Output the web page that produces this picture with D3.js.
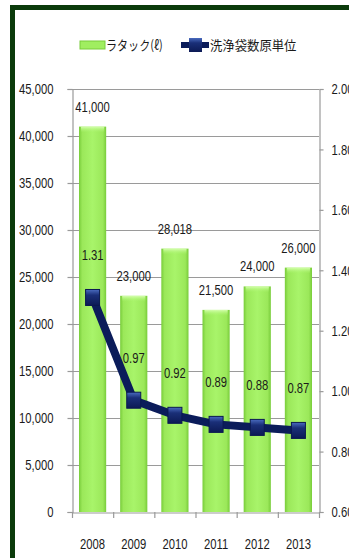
<!DOCTYPE html>
<html><head><meta charset="utf-8">
<script src="https://cdn.jsdelivr.net/npm/d3@7"></script>
<style>
html,body{margin:0;padding:0;background:#fff;overflow:hidden}
svg{display:block}
</style></head>
<body>
<script>
const categories = ["2008","2009","2010","2011","2012","2013"];
const barValues = [41000, 23000, 28018, 21500, 24000, 26000];
const lineValues = [1.31, 0.97, 0.92, 0.89, 0.88, 0.87];
const leftTicks = [0,5000,10000,15000,20000,25000,30000,35000,40000,45000];
const rightTicks = [0.6,0.8,1.0,1.2,1.4,1.6,1.8,2.0];
const barName = "ラタック(ℓ)";
const lineName = "洗浄袋数原単位";

const W = 349, H = 558;
const numFont = "'Liberation Sans','Arial',sans-serif";
const cjkFont = "'Noto Sans CJK JP',sans-serif";
const FS = 15, SQ = 0.75, TXT = "#1a1a1a";
const svg = d3.select("body").append("svg").attr("width", W).attr("height", H);

function squeeze(sel, f) {
  sel.each(function(){
    const len = this.getComputedTextLength();
    d3.select(this).attr("textLength", len*f).attr("lengthAdjust","spacingAndGlyphs");
  });
}

const defs = svg.append("defs");
const bg = defs.append("linearGradient").attr("id","barG").attr("x1","0").attr("x2","1").attr("y1","0").attr("y2","0");
bg.append("stop").attr("offset","0").attr("stop-color","#78cc3a");
bg.append("stop").attr("offset","0.12").attr("stop-color","#9be85a");
bg.append("stop").attr("offset","0.5").attr("stop-color","#a8f46a");
bg.append("stop").attr("offset","0.88").attr("stop-color","#9be85a");
bg.append("stop").attr("offset","1").attr("stop-color","#78cc3a");
const tg = defs.append("linearGradient").attr("id","topG").attr("x1","0").attr("x2","0").attr("y1","0").attr("y2","1");
tg.append("stop").attr("offset","0").attr("stop-color","#d6ffb0");
tg.append("stop").attr("offset","1").attr("stop-color","#a8f46a").attr("stop-opacity",0);
const mg = defs.append("linearGradient").attr("id","mkG").attr("x1","0").attr("x2","0").attr("y1","0").attr("y2","1");
mg.append("stop").attr("offset","0").attr("stop-color","#4a6cc0");
mg.append("stop").attr("offset","0.35").attr("stop-color","#1a2f78");
mg.append("stop").attr("offset","1").attr("stop-color","#0c1a55");

// frame
svg.append("rect").attr("x",12.5).attr("y",7.5).attr("width",400).attr("height",600)
  .attr("fill","none").attr("stroke","#0b3b0b").attr("stroke-width",5);

const x0 = 72, x1 = 319, yTop = 89, yBot = 512;
const x = d3.scaleBand().domain(categories).range([x0, x1]).paddingInner(0.34).paddingOuter(0.17);
const xb = d3.scaleBand().domain(categories).range([x0, x1]);
const yL = d3.scaleLinear().domain([0,45000]).range([yBot, yTop]);
const yR = d3.scaleLinear().domain([0.6,2.0]).range([yBot, yTop]);

// gridlines
svg.append("g").selectAll("line").data(leftTicks.filter(d=>d>0)).join("line")
  .attr("x1",x0).attr("x2",x1).attr("y1",d=>yL(d)+0.5).attr("y2",d=>yL(d)+0.5)
  .attr("stroke","#9a9a9a").attr("stroke-width",1.2);

// left axis
const gl = svg.append("g").attr("transform",`translate(${x0+0.5},0)`)
  .call(d3.axisLeft(yL).tickValues(leftTicks).tickSize(5).tickPadding(14).tickFormat(d3.format(",")));
gl.select(".domain").attr("stroke","#9a9a9a").attr("stroke-width",1.2);
gl.selectAll(".tick line").attr("stroke","#9a9a9a").attr("stroke-width",1.2);
gl.selectAll(".tick text").attr("font-family",numFont).attr("font-size",FS).attr("fill",TXT).call(squeeze,SQ);

// right axis
const gr = svg.append("g").attr("transform",`translate(${x1+0.5},0)`)
  .call(d3.axisRight(yR).tickValues(rightTicks).tickSize(4).tickPadding(8).tickFormat(d3.format(".2f")));
gr.select(".domain").attr("stroke","#9a9a9a").attr("stroke-width",1.2);
gr.selectAll(".tick line").attr("stroke","#9a9a9a").attr("stroke-width",1.2);
gr.selectAll(".tick text").attr("font-family",numFont).attr("font-size",FS).attr("fill",TXT).call(squeeze,SQ);

// bars
const bars = svg.append("g");
bars.selectAll("rect.b").data(barValues).join("rect").attr("class","b")
  .attr("x",(d,i)=>x(categories[i])).attr("width",x.bandwidth())
  .attr("y",d=>yL(d)).attr("height",d=>yBot-yL(d)).attr("fill","url(#barG)");
bars.selectAll("rect.t").data(barValues).join("rect").attr("class","t")
  .attr("x",(d,i)=>x(categories[i])+2).attr("width",x.bandwidth()-4)
  .attr("y",d=>yL(d)).attr("height",6).attr("fill","url(#topG)");

// x axis
const gx = svg.append("g").attr("transform",`translate(0,${yBot+0.5})`)
  .call(d3.axisBottom(xb).tickSize(0).tickPadding(26));
gx.select(".domain").attr("stroke","#9a9a9a").attr("stroke-width",1.2);
gx.selectAll(".tick text").attr("font-family",numFont).attr("font-size",FS).attr("fill",TXT).call(squeeze,SQ);
svg.append("g").selectAll("line").data(d3.range(categories.length+1)).join("line")
  .attr("x1",i=>x0+0.5+i*xb.step()).attr("x2",i=>x0+0.5+i*xb.step())
  .attr("y1",yBot).attr("y2",yBot+6).attr("stroke","#9a9a9a").attr("stroke-width",1.2);

// bar labels
svg.append("g").selectAll("text").data(barValues).join("text")
  .attr("x",(d,i)=>x(categories[i])+x.bandwidth()/2).attr("y",d=>yL(d)-15)
  .attr("text-anchor","middle").attr("font-family",numFont).attr("font-size",FS).attr("fill",TXT)
  .text(d=>d3.format(",")(d)).call(squeeze,SQ);

// line
const cx = (d,i)=>xb(categories[i])+xb.bandwidth()/2;
svg.append("path").datum(lineValues)
  .attr("d", d3.line().x(cx).y(d=>yR(d)))
  .attr("fill","none").attr("stroke","#0b1c5a").attr("stroke-width",8).attr("stroke-linejoin","round");
svg.append("g").selectAll("rect").data(lineValues).join("rect")
  .attr("x",(d,i)=>cx(d,i)-7).attr("y",d=>yR(d)-8).attr("width",14).attr("height",16)
  .attr("fill","url(#mkG)").attr("stroke","#0a1850").attr("stroke-width",1);

// line labels
svg.append("g").selectAll("text").data(lineValues).join("text")
  .attr("x",cx).attr("y",d=>yR(d)-37)
  .attr("text-anchor","middle").attr("font-family",numFont).attr("font-size",FS).attr("fill",TXT)
  .text(d=>d3.format(".2f")(d)).call(squeeze,SQ);

// legend
const lg = svg.append("g");
lg.append("rect").attr("x",80).attr("y",41).attr("width",25).attr("height",8)
  .attr("fill","#a0ee60").attr("stroke","#78cc3a").attr("stroke-width",1);
lg.append("text").attr("x",106).attr("y",50).attr("font-family",cjkFont).attr("font-size",13).attr("fill",TXT)
  .text(barName).call(squeeze,0.85);
lg.append("line").attr("x1",181).attr("x2",209).attr("y1",45).attr("y2",45).attr("stroke","#0b1c5a").attr("stroke-width",6);
lg.append("rect").attr("x",189).attr("y",38).attr("width",13).attr("height",14).attr("fill","url(#mkG)");
lg.append("text").attr("x",210).attr("y",50).attr("font-family",cjkFont).attr("font-size",13).attr("fill",TXT)
  .text(lineName).call(squeeze,0.95);
</script>
</body></html>
